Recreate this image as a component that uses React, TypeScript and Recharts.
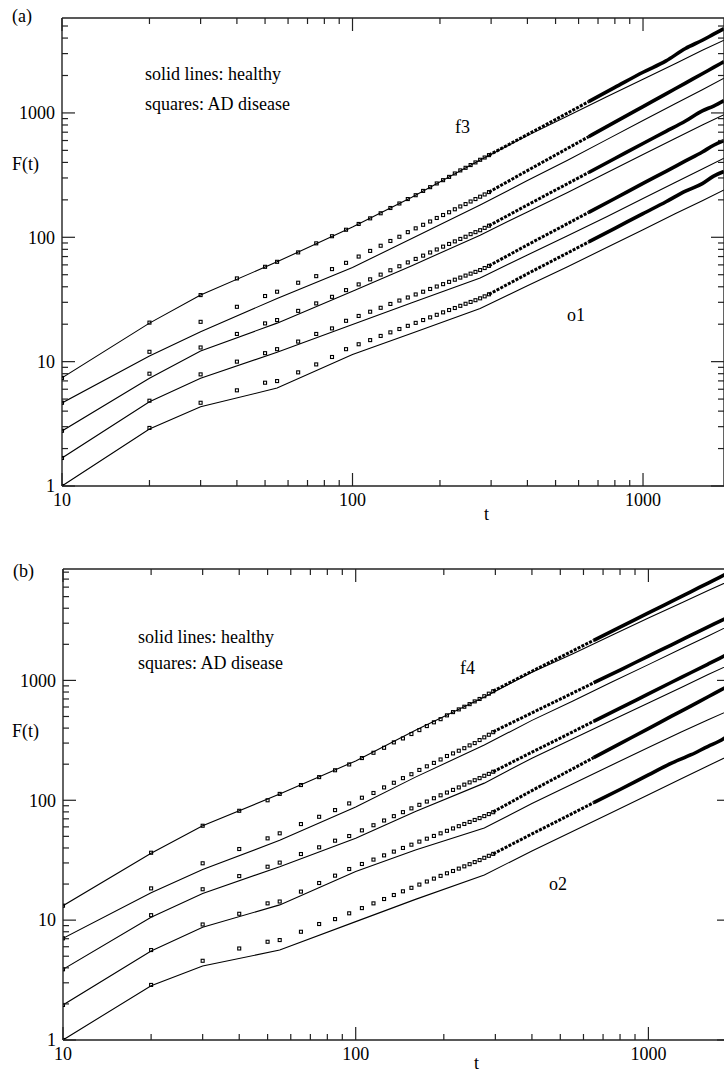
import React from 'react';
import { ComposedChart, Line, Scatter, XAxis, YAxis } from 'recharts';

const FONT = '"Liberation Serif", "Times New Roman", serif';

// box sizes t where the squares are drawn one by one
const tSq = [10, 20, 30, 40, 50, 55, 65, 75, 85, 95, 105, 115, 125, 135, 145, 155, 165, 175, 185, 195, 205, 215, 225, 235, 245, 255, 265, 275, 285, 295];
// past ~300 the squares run together into a thick band
const tTail = [295, 400, 500, 650, 800, 1000, 1200, 1400, 1600, 1750, 1900];
// healthy curves
const tLine = [10, 20, 30, 55, 100, 160, 275, 400, 550, 750, 1000, 1300, 1600, 1900];

// ---- panel (a) ----
const sqA1 = [7.4, 20.6, 34.3, 46.7, 57.9, 63.5, 75.6, 89.4, 102, 115, 128, 142, 156, 172, 187, 203, 218, 236, 253, 271, 288, 306, 326, 345, 362, 381, 400, 420, 438, 458];
const sqA2 = [4.67, 12.0, 20.9, 27.6, 33.7, 36.5, 43.1, 48.7, 55.5, 62.3, 70.0, 77.7, 85.5, 93.4, 101, 110, 118, 126, 134, 143, 151, 159, 168, 177, 185, 194, 203, 212, 221, 231];
const sqA3 = [2.78, 8.0, 13.0, 16.7, 20.3, 21.6, 25.6, 29.4, 33.2, 37.6, 41.8, 45.9, 50.1, 54.3, 58.5, 62.8, 67.0, 71.2, 75.5, 79.8, 84.1, 88.4, 92.7, 97.0, 101, 106, 110, 114, 119, 124];
const sqA4 = [1.68, 4.85, 7.9, 10.0, 11.7, 12.6, 14.5, 16.7, 18.5, 21.3, 23.3, 25.2, 27.1, 29.1, 31.0, 32.8, 34.7, 36.5, 38.4, 40.2, 42.0, 43.8, 45.6, 47.4, 49.2, 51.0, 52.7, 54.5, 56.6, 58.9];
const sqA5 = [1.0, 2.93, 4.67, 5.88, 6.77, 6.98, 8.2, 9.5, 10.9, 12.6, 13.8, 14.9, 16.1, 17.2, 18.3, 19.4, 20.5, 21.6, 22.7, 23.8, 24.9, 26.0, 27.0, 28.1, 29.2, 30.2, 31.2, 32.3, 33.5, 34.8];

const tailA1 = [458, 670, 886, 1233, 1603, 2124, 2620, 3300, 3841, 4299, 4762];
const tailA2 = [231, 344, 459, 644, 843, 1125, 1424, 1739, 2066, 2322, 2584];
const tailA3 = [124, 182, 240, 332, 430, 568, 711, 861, 1040, 1136, 1256];
const tailA4 = [59, 86.9, 114.5, 158.6, 205, 271, 339, 411, 485, 550, 599];
const tailA5 = [34.8, 50.9, 66.7, 91.7, 118, 155, 193, 235, 270, 310, 338];

const lineA1 = [7.4, 20.4, 34.3, 63.5, 121, 210, 418, 657, 943, 1347, 1869, 2514, 3197, 3848];
const lineA2 = [4.65, 11.1, 17.4, 32.2, 57.1, 98.0, 182, 286, 416, 610, 869, 1197, 1537, 1904];
const lineA3 = [2.77, 7.36, 12.2, 20.4, 36.9, 59.1, 104, 160, 229, 330, 463, 628, 799, 969];
const lineA4 = [1.68, 4.76, 7.34, 11.9, 19.9, 29.7, 47.0, 72.2, 103, 146, 205, 278, 354, 433];
const lineA5 = [1.0, 2.87, 4.34, 6.13, 11.4, 16.9, 26.8, 40.7, 57.9, 82.8, 115, 156, 197, 240];

// ---- panel (b) ----
const sqB1 = [13.2, 36.5, 61.3, 81.7, 100, 113, 134, 156, 178, 199, 225, 249, 274, 304, 328, 357, 385, 416, 447, 475, 511, 544, 573, 603, 634, 668, 700, 738, 775, 812];
const sqB2 = [7.05, 18.4, 29.8, 39.2, 48.1, 53.0, 63.3, 72.8, 82.8, 94.1, 105, 115, 128, 140, 153, 165, 179, 192, 205, 219, 234, 246, 259, 272, 287, 300, 318, 335, 352, 370];
const sqB3 = [3.89, 11.0, 18.1, 23.3, 27.9, 30.2, 35.6, 40.5, 46.0, 50.3, 56.1, 61.9, 67.8, 73.7, 79.6, 85.6, 91.6, 97.6, 104, 110, 116, 122, 128, 135, 141, 147, 153, 160, 166, 173];
const sqB4 = [1.96, 5.63, 9.2, 11.3, 13.8, 14.3, 17.3, 20.4, 23.5, 26.7, 29.4, 32.0, 34.7, 37.3, 40.0, 42.6, 45.2, 47.8, 50.4, 53.0, 55.6, 58.2, 60.8, 63.4, 65.9, 68.5, 71.0, 73.8, 76.7, 79.5];
const sqB5 = [1.0, 2.88, 4.58, 5.8, 6.6, 6.82, 8.0, 9.28, 10.2, 11.4, 12.6, 13.8, 15.0, 16.2, 17.4, 18.6, 19.8, 21.0, 22.2, 23.4, 24.6, 25.7, 26.9, 28.1, 29.3, 30.5, 31.7, 33.1, 34.4, 35.7];

const tailB1 = [815, 1193, 1564, 2160, 2778, 3656, 4567, 5512, 6493, 7243, 8020];
const tailB2 = [373, 536, 698, 955, 1221, 1595, 1981, 2382, 2794, 3105, 3424];
const tailB3 = [173, 252, 330, 456, 586, 772, 965, 1164, 1370, 1529, 1692];
const tailB4 = [80, 120.5, 161, 227, 297, 396, 503, 614, 731, 821, 914];
const tailB5 = [35.7, 52.4, 68.9, 95.5, 123, 163, 204, 240, 282, 312, 355];

const lineB1 = [13.2, 36.1, 61.3, 112.6, 213, 384, 726, 1171, 1661, 2378, 3321, 4440, 5621, 6812];
const lineB2 = [7.05, 16.9, 26.5, 46.3, 87.8, 156, 289, 464, 671, 970, 1354, 1849, 2350, 2880];
const lineB3 = [3.89, 10.55, 16.7, 27.9, 48.3, 80.5, 139, 224.5, 325, 465, 649, 878, 1120, 1357];
const lineB4 = [1.96, 5.52, 8.71, 13.4, 25.5, 38.4, 58.6, 93.9, 137, 197, 275, 373, 470, 565];
const lineB5 = [1.0, 2.84, 4.14, 5.63, 9.72, 14.9, 23.8, 37.8, 55.0, 79.1, 111, 152, 194, 238];

const xTicks = [10, 20, 30, 40, 50, 60, 70, 80, 90, 100, 200, 300, 400, 500, 600, 700, 800, 900, 1000];
const yTicksA = [1, 2, 3, 4, 5, 6, 7, 8, 9, 10, 20, 30, 40, 50, 60, 70, 80, 90, 100, 200, 300, 400, 500, 600, 700, 800, 900, 1000, 2000, 3000, 4000, 5000];
const yTicksB = [1, 2, 3, 4, 5, 6, 7, 8, 9, 10, 20, 30, 40, 50, 60, 70, 80, 90, 100, 200, 300, 400, 500, 600, 700, 800, 900, 1000, 2000, 3000, 4000, 5000, 6000, 7000, 8000];
const MAJOR = [1, 10, 100, 1000];

const pts = (ts: number[], fs: number[]) => ts.map((t, i) => ({ t, F: fs[i] }));

function makeTick(side: 'bottom' | 'top' | 'left' | 'right', labels: boolean) {
  return (props: any) => {
    const { x, y, payload } = props;
    const v = payload.value;
    const major = MAJOR.includes(v);
    const len = major ? 13 : 6;
    let l;
    if (side === 'bottom') l = [x, y, x, y - len];
    else if (side === 'top') l = [x, y, x, y + len];
    else if (side === 'left') l = [x, y, x + len, y];
    else l = [x, y, x - len, y];
    return (
      <g>
        <line x1={l[0]} y1={l[1]} x2={l[2]} y2={l[3]} stroke="#222" strokeWidth={1.2} />
        {labels && major && side === 'bottom' && (
          <text x={x} y={y + 20} textAnchor="middle" fontFamily={FONT} fontSize={18} fill="#000">{v}</text>
        )}
        {labels && major && side === 'left' && (
          <text x={x - 7} y={y} dy="0.35em" textAnchor="end" fontFamily={FONT} fontSize={18} fill="#000">{v}</text>
        )}
      </g>
    );
  };
}

const square = (props: any) => (
  <rect x={props.cx - 1.5} y={props.cy - 1.5} width={3} height={3} fill="none" stroke="#000" strokeWidth={1.1} />
);

type PanelProps = {
  top: number;
  width: number;
  height: number;
  left: number;
  topAxis: number;
  ymax: number;
  yTicks: number[];
  sq: number[][];
  tail: number[][];
  lines: number[][];
};

function Panel({ top, width, height, left, topAxis, ymax, yTicks, sq, tail, lines }: PanelProps) {
  const axisStyle = { stroke: '#222', strokeWidth: 1.4 };
  return (
    <div style={{ position: 'absolute', left: 0, top }}>
      <ComposedChart width={width} height={height} margin={{ top: 0, right: 0, bottom: 0, left: 0 }}>
        <XAxis dataKey="t" type="number" scale="log" domain={[10, 1900]} allowDataOverflow ticks={xTicks} interval={0}
          height={40} tickSize={0} tickMargin={0} tickLine={false} axisLine={axisStyle} tick={makeTick('bottom', true)} />
        <XAxis xAxisId="top" orientation="top" dataKey="t" type="number" scale="log" domain={[10, 1900]} allowDataOverflow
          ticks={xTicks} interval={0} height={topAxis} tickSize={0} tickMargin={0} tickLine={false} axisLine={axisStyle}
          tick={makeTick('top', false)} />
        <YAxis dataKey="F" type="number" scale="log" domain={[1, ymax]} allowDataOverflow ticks={yTicks} interval={0}
          width={left} tickSize={0} tickMargin={0} tickLine={false} axisLine={axisStyle} tick={makeTick('left', true)} />
        <YAxis yAxisId="r" orientation="right" dataKey="F" type="number" scale="log" domain={[1, ymax]} allowDataOverflow
          ticks={yTicks} interval={0} width={10} tickSize={0} tickMargin={0} tickLine={false} axisLine={axisStyle}
          tick={makeTick('right', false)} />
        {lines.map((f, i) => (
          <Line key={'h' + i} data={pts(tLine, f)} dataKey="F" type="linear" stroke="#000" strokeWidth={1.1}
            dot={false} isAnimationActive={false} />
        ))}
        {tail.map((f, i) => (
          <Line key={'d' + i} data={pts(tTail.slice(0, 4), f.slice(0, 4))} dataKey="F" type="linear" stroke="#000"
            strokeWidth={3} strokeDasharray="3 1.3" dot={false} isAnimationActive={false} />
        ))}
        {tail.map((f, i) => (
          <Line key={'s' + i} data={pts(tTail.slice(3), f.slice(3))} dataKey="F" type="monotone" stroke="#000"
            strokeWidth={3.6} dot={false} isAnimationActive={false} />
        ))}
        {sq.map((f, i) => (
          <Scatter key={'q' + i} data={pts(tSq, f)} dataKey="F" shape={square} isAnimationActive={false} />
        ))}
      </ComposedChart>
    </div>
  );
}

const txt = { fontFamily: FONT, fontSize: 18, fill: '#000' } as const;

export default function App() {
  return (
    <div style={{ position: 'absolute', left: 0, top: 0, width: 724, height: 1075, overflow: 'hidden', background: '#fff' }}>
      <Panel top={0} width={734} height={526} left={62} topAxis={18} ymax={5800} yTicks={yTicksA}
        sq={[sqA1, sqA2, sqA3, sqA4, sqA5]} tail={[tailA1, tailA2, tailA3, tailA4, tailA5]}
        lines={[lineA1, lineA2, lineA3, lineA4, lineA5]} />
      <Panel top={540} width={740} height={540} left={63} topAxis={29} ymax={8500} yTicks={yTicksB}
        sq={[sqB1, sqB2, sqB3, sqB4, sqB5]} tail={[tailB1, tailB2, tailB3, tailB4, tailB5]}
        lines={[lineB1, lineB2, lineB3, lineB4, lineB5]} />
      <svg width={724} height={1075} style={{ position: 'absolute', left: 0, top: 0, pointerEvents: 'none' }}>
        <text x={12} y={22} {...txt}>(a)</text>
        <text x={12} y={170} {...txt}>F(t)</text>
        <text x={145} y={80} {...txt}>solid lines: healthy</text>
        <text x={145} y={110} {...txt}>squares: AD disease</text>
        <text x={455} y={133} {...txt}>f3</text>
        <text x={567} y={321} {...txt}>o1</text>
        <text x={484} y={520} {...txt}>t</text>

        <text x={13} y={577} {...txt}>(b)</text>
        <text x={12} y={737} {...txt}>F(t)</text>
        <text x={138} y={643} {...txt}>solid lines: healthy</text>
        <text x={138} y={669} {...txt}>squares: AD disease</text>
        <text x={460} y={674} {...txt}>f4</text>
        <text x={549} y={890} {...txt}>o2</text>
        <text x={474} y={1069} {...txt}>t</text>
      </svg>
    </div>
  );
}
